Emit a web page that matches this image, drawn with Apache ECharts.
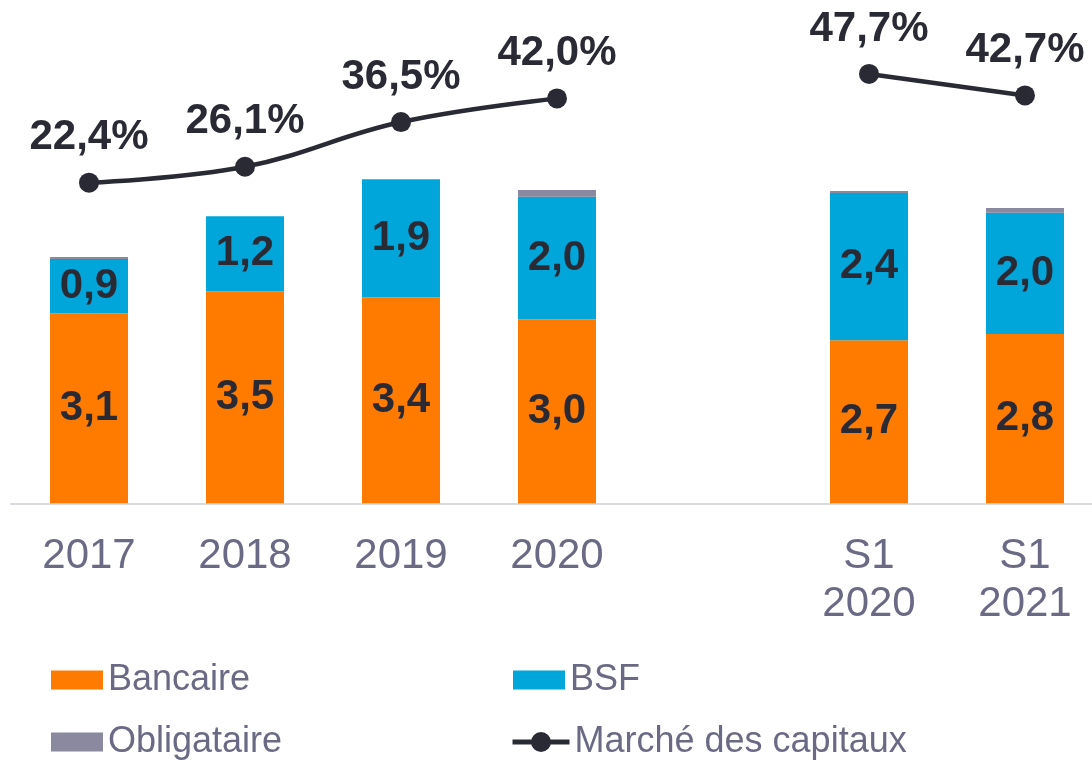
<!DOCTYPE html>
<html>
<head>
<meta charset="utf-8">
<script src="https://cdn.jsdelivr.net/npm/echarts@6/dist/echarts.min.js"></script>
<style>
html,body{margin:0;padding:0;background:#fff;}
#chart{width:1092px;height:764px;}
</style>
</head>
<body>
<div id="chart"></div>
<script>
// ---- data ----
const categories = ['2017', '2018', '2019', '2020', '', 'S1\n2020', 'S1\n2021'];
const bancaire = [3.10, 3.46, 3.36, 3.00, null, 2.66, 2.76];
const bsf = [0.886, 1.223, 1.925, 2.00, null, 2.40, 1.98];
const obligataire = [0.033, 0, 0, 0.11, null, 0.033, 0.077];
const marche = [22.4, 26.1, 36.5, 42.0, null, 47.7, 42.7];
const seriesNames = ['Bancaire', 'BSF', 'Obligataire', 'Marché des capitaux'];

// ---- style ----
const FONT = 'Liberation Sans, Arial, sans-serif';
const C_ORANGE = '#FF7B00';
const C_BLUE = '#00A6DA';
const C_GREY = '#8A89A0';
const C_DARK = '#2A2A35';
const C_LABEL = '#6B6A85';

const fmt = v => (v == null ? '' : v.toFixed(1).replace('.', ','));

const chart = echarts.init(document.getElementById('chart'));

const barLabel = {
  show: true,
  position: 'inside',
  fontFamily: FONT,
  fontSize: 42,
  fontWeight: 'bold',
  color: C_DARK,
  formatter: p => fmt(p.value)
};

function legendAt(name, left, top, extra) {
  return Object.assign({
    data: [{ name: name, icon: 'rect' }],
    left: left,
    top: top,
    padding: 0,
    itemWidth: 52,
    itemHeight: 19,
    selectedMode: false,
    textStyle: { fontFamily: FONT, fontSize: 36, color: C_LABEL, lineHeight: 40 }
  }, extra || {});
}

const option = {
  backgroundColor: '#ffffff',
  animation: false,
  grid: { left: 11, width: 1092, top: 12.9, height: 490.4, outerBoundsMode: 'none', containLabel: false },
  legend: [
    legendAt(seriesNames[0], 51, 660),
    legendAt(seriesNames[1], 513, 660),
    legendAt(seriesNames[2], 51, 722),
    legendAt(seriesNames[3], 510, 722, {
      data: [seriesNames[3]],
      itemWidth: 57, itemHeight: 25,
      lineStyle: { width: 5, color: C_DARK }
    })
  ],
  xAxis: {
    type: 'category',
    data: categories,
    boundaryGap: true,
    axisLine: { show: true, lineStyle: { color: '#D9D9E0', width: 2 } },
    axisTick: { show: false },
    axisLabel: {
      fontFamily: FONT,
      fontSize: 42,
      lineHeight: 48,
      color: C_LABEL,
      margin: 29,
      interval: 0
    }
  },
  yAxis: [
    { type: 'value', min: 0, max: 8, show: false, splitLine: { show: false } },
    { type: 'value', min: -52.2, max: 61.9, show: false, splitLine: { show: false } }
  ],
  series: [
    {
      name: seriesNames[0], type: 'bar', stack: 'total', data: bancaire,
      barWidth: '50%', itemStyle: { color: C_ORANGE }, label: barLabel
    },
    {
      name: seriesNames[1], type: 'bar', stack: 'total', data: bsf,
      barWidth: '50%', itemStyle: { color: C_BLUE }, label: barLabel
    },
    {
      name: seriesNames[2], type: 'bar', stack: 'total', data: obligataire,
      barWidth: '50%', itemStyle: { color: C_GREY }, label: { show: false }
    },
    {
      name: seriesNames[3], type: 'line', yAxisIndex: 1, data: marche,
      smooth: 0.4,
      connectNulls: false,
      symbol: 'circle', symbolSize: 20,
      z: 5,
      lineStyle: { color: C_DARK, width: 4.5 },
      itemStyle: { color: C_DARK },
      label: {
        show: true,
        position: 'top',
        distance: 14,
        fontFamily: FONT,
        fontSize: 42,
        lineHeight: 42,
        fontWeight: 'bold',
        color: C_DARK,
        formatter: p => fmt(p.value) + '%'
      }
    }
  ]
};

chart.setOption(option);
</script>
</body>
</html>
